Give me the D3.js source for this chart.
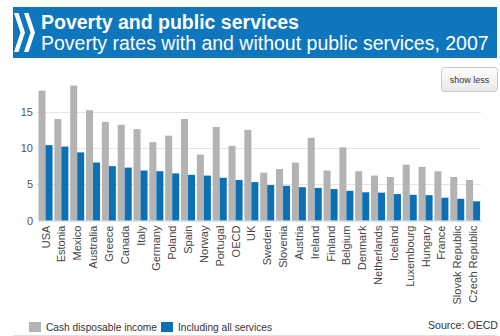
<!DOCTYPE html>
<html>
<head>
<meta charset="utf-8">
<script src="https://cdn.jsdelivr.net/npm/d3@7"></script>
<style>
  body { margin: 0; background: #fff; }
  svg { display: block; font-family: "Liberation Sans", Arial, sans-serif; }
</style>
</head>
<body>
<div id="chart"></div>
<script>
// Poverty rates (%) per country, with cash income only and with all public services
const countries = ["USA", "Estonia", "Mexico", "Australia", "Greece", "Canada", "Italy", "Germany",
  "Poland", "Spain", "Norway", "Portugal", "OECD", "UK", "Sweden", "Slovenia", "Austria", "Ireland",
  "Finland", "Belgium", "Denmark", "Netherlands", "Iceland", "Luxembourg", "Hungary", "France",
  "Slovak Republic", "Czech Republic"];
const cashIncome = [17.9, 14.0, 18.6, 15.2, 13.6, 13.2, 12.6, 10.8, 11.7, 14.0, 9.1, 12.9, 10.3, 12.5,
  6.6, 7.1, 8.0, 11.4, 6.9, 10.1, 6.8, 6.2, 6.0, 7.7, 7.4, 6.8, 6.0, 5.6];
const allServices = [10.4, 10.2, 9.4, 8.0, 7.5, 7.3, 6.9, 6.8, 6.5, 6.3, 6.2, 5.9, 5.6, 5.3,
  4.9, 4.8, 4.6, 4.5, 4.35, 4.1, 3.9, 3.85, 3.65, 3.55, 3.5, 3.15, 3.0, 2.65];
const seriesNames = ["Cash disposable income", "Including all services"];
const yTicks = [0, 5, 10, 15];

const width = 500, height = 336;
const grey = "#b3b3b3", blue = "#0b71b4";

const svg = d3.select("#chart").append("svg")
  .attr("width", width)
  .attr("height", height);

// header band with logo chevrons
svg.append("rect")
  .attr("x", 13).attr("y", 7).attr("width", 484).attr("height", 51)
  .attr("fill", "#0e76bc");

[0, 10].forEach(dx => {
  svg.append("polygon")
    .attr("points", [[14, 13], [18.5, 13], [25, 32.5], [18.5, 52], [14, 52], [20.5, 32.5]]
      .map(p => [p[0] + dx, p[1]].join(",")).join(" "))
    .attr("fill", "#fff");
});

svg.append("text")
  .attr("x", 41).attr("y", 29)
  .attr("fill", "#fff")
  .attr("font-size", 19.5)
  .attr("font-weight", "bold")
  .text("Poverty and public services");

svg.append("text")
  .attr("x", 41).attr("y", 50)
  .attr("fill", "#fff")
  .attr("font-size", 19.5)
  .text("Poverty rates with and without public services, 2007");

// "show less" button
const grad = svg.append("defs").append("linearGradient")
  .attr("id", "btn").attr("x1", 0).attr("y1", 0).attr("x2", 0).attr("y2", 1);
grad.append("stop").attr("offset", "0%").attr("stop-color", "#fdfdfd");
grad.append("stop").attr("offset", "100%").attr("stop-color", "#e9e9e9");

svg.append("rect")
  .attr("x", 441.5).attr("y", 67.5).attr("width", 56).attr("height", 24).attr("rx", 3)
  .attr("fill", "url(#btn)")
  .attr("stroke", "#c8c8c8");

svg.append("text")
  .attr("x", 469.5).attr("y", 82.5)
  .attr("text-anchor", "middle")
  .attr("font-size", 9)
  .attr("fill", "#333")
  .text("show less");

// scales
const x0 = d3.scaleBand()
  .domain(countries)
  .range([37.6, 481])
  .paddingInner(0.114)
  .paddingOuter(0.057);

const x1 = d3.scaleBand()
  .domain(seriesNames)
  .range([0, x0.bandwidth()]);

const y = d3.scaleLinear()
  .domain([0, 20])
  .range([220.6, 75.4]);

// gridlines
svg.append("g")
  .selectAll("line")
  .data(yTicks.filter(t => t > 0))
  .join("line")
  .attr("x1", 36.7).attr("x2", 481)
  .attr("y1", d => Math.round(y(d)) + 0.5)
  .attr("y2", d => Math.round(y(d)) + 0.5)
  .attr("stroke", "#e4e4e4");

// y axis labels
const yAxis = d3.axisLeft(y)
  .tickValues(yTicks)
  .tickSize(0)
  .tickPadding(0);

svg.append("g")
  .attr("transform", "translate(33,0)")
  .call(yAxis)
  .call(g => g.select(".domain").remove())
  .call(g => g.selectAll("text")
    .attr("font-size", 11)
    .attr("font-family", "Liberation Sans, Arial, sans-serif")
    .attr("fill", "#555"));

// bars
const rows = countries.map((c, i) => ({ country: c, values: [cashIncome[i], allServices[i]] }));

const groups = svg.append("g")
  .selectAll("g")
  .data(rows)
  .join("g")
  .attr("transform", d => `translate(${x0(d.country)},0)`);

groups.selectAll("rect")
  .data(d => d.values.map((v, i) => ({ key: seriesNames[i], value: v })))
  .join("rect")
  .attr("x", d => x1(d.key))
  .attr("width", x1.bandwidth())
  .attr("y", d => y(d.value))
  .attr("height", d => y(0) - y(d.value))
  .attr("fill", d => d.key === seriesNames[0] ? grey : blue);

// x axis
const xAxis = d3.axisBottom(x0)
  .tickSize(0)
  .tickPadding(0);

svg.append("g")
  .attr("transform", `translate(0,${y(0)})`)
  .call(xAxis)
  .call(g => g.select(".domain")
    .attr("stroke", "#c0d0e0"))
  .call(g => g.selectAll("text")
    .attr("font-size", 11)
    .attr("font-family", "Liberation Sans, Arial, sans-serif")
    .attr("fill", "#444")
    .attr("text-anchor", "end")
    .attr("dy", null)
    .attr("transform", "translate(4,5) rotate(-90)"));

// legend
const legend = svg.append("g");
const legendX = [29, 161];
seriesNames.forEach((name, i) => {
  legend.append("rect")
    .attr("x", legendX[i]).attr("y", 322)
    .attr("width", 12).attr("height", 10)
    .attr("fill", i === 0 ? grey : blue);
  legend.append("text")
    .attr("x", legendX[i] + 17).attr("y", 331)
    .attr("font-size", 10.2)
    .attr("fill", "#333")
    .text(name);
});

svg.append("text")
  .attr("x", 498).attr("y", 328.5)
  .attr("text-anchor", "end")
  .attr("font-size", 10.6)
  .attr("fill", "#333")
  .text("Source: OECD");

svg.append("line")
  .attr("x1", 13).attr("x2", 497)
  .attr("y1", 335.5).attr("y2", 335.5)
  .attr("stroke", "#e0e0e0");
</script>
</body>
</html>
